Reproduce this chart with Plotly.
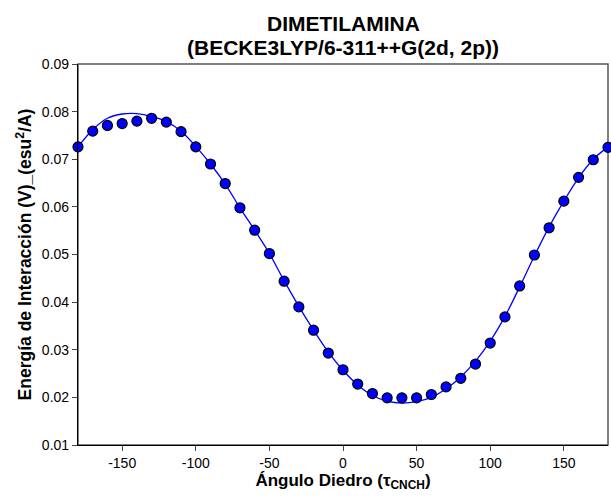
import plotly.graph_objects as go

# Puntos calculados (angulo diedro, energia)
angulos = list(range(-180, 181, 10))
energia = [0.0726, 0.0759, 0.0771, 0.0775, 0.0780, 0.0786, 0.0778, 0.0758, 0.0726,
           0.0690, 0.0649, 0.0598, 0.0551, 0.0502, 0.0444, 0.0390, 0.0341, 0.0293,
           0.0258, 0.0228, 0.0208, 0.0199, 0.0199, 0.0199, 0.0206, 0.0222, 0.0240,
           0.0270, 0.0314, 0.0369, 0.0434, 0.0499, 0.0556, 0.0612, 0.0662, 0.0699,
           0.0725]

# Curva de ajuste
curva = [0.0726, 0.0762, 0.0786, 0.0795, 0.0796, 0.0790, 0.0779, 0.0759, 0.0727,
         0.0690, 0.0648, 0.0598, 0.0551, 0.0502, 0.0445, 0.0391, 0.0341, 0.0295,
         0.0257, 0.0226, 0.0204, 0.0192, 0.0188, 0.0191, 0.0200, 0.0218, 0.0243,
         0.0276, 0.0318, 0.0370, 0.0432, 0.0497, 0.0558, 0.0612, 0.0661, 0.0700,
         0.0726]

xticks = [-150, -100, -50, 0, 50, 100, 150]
xlabels = ['-150', '-100', '-50', '0', '50', '100', '150']
yticks = [0.01, 0.02, 0.03, 0.04, 0.05, 0.06, 0.07, 0.08, 0.09]
ylabels = ['0.01', '0.02', '0.03', '0.04', '0.05', '0.06', '0.07', '0.08', '0.09']

titulo = ['DIMETILAMINA', '(BECKE3LYP/6-311++G(2d, 2p))']

fig = go.Figure()
fig.add_trace(go.Scatter(x=angulos, y=curva, mode='lines',
                         line=dict(color='#0000ff', width=1.3, shape='spline'),
                         hoverinfo='skip'))
fig.add_trace(go.Scatter(x=angulos, y=energia, mode='markers', cliponaxis=False,
                         marker=dict(size=10, color='#0000ff',
                                     line=dict(color='black', width=1.2))))

# marco superior/derecho en gris
fig.add_shape(type='rect', xref='paper', yref='paper', x0=0, x1=1, y0=0, y1=1,
              line=dict(color='#555555', width=1.5), layer='below')

# titulo en dos lineas
for texto, yy in zip(titulo, [1.1076, 1.042]):
    fig.add_annotation(text='<b>' + texto + '</b>', xref='paper', yref='paper',
                       x=0.5, y=yy, xanchor='center', yanchor='middle',
                       showarrow=False, font=dict(size=21))

fig.update_layout(
    width=611, height=497,
    margin=dict(l=78, r=3, t=64, b=52),
    paper_bgcolor='white', plot_bgcolor='white',
    showlegend=False,
    font=dict(family='Liberation Sans, Arial, sans-serif', size=14, color='black'),
    xaxis=dict(range=[-180, 180], tickvals=xticks, ticktext=xlabels,
               ticks='outside', ticklen=5,
               showgrid=False, zeroline=False, showline=True, linecolor='black',
               linewidth=1.2,
               title=dict(text='<b>Ángulo Diedro (τ<sub>CNCH</sub>)</b>',
                          font=dict(size=17), standoff=3)),
    yaxis=dict(range=[0.01, 0.09], tickvals=yticks, ticktext=ylabels,
               ticks='outside', ticklen=5, showgrid=False, zeroline=False,
               showline=True, linecolor='black', linewidth=1.2,
               title=dict(text='<b>Energía de Interacción (V)_(esu<sup>2</sup>/A)</b>',
                          font=dict(size=17.5), standoff=5)),
)

fig.write_html("out.html", config={'displayModeBar': False},
               post_script="document.body.style.margin='0px';")
